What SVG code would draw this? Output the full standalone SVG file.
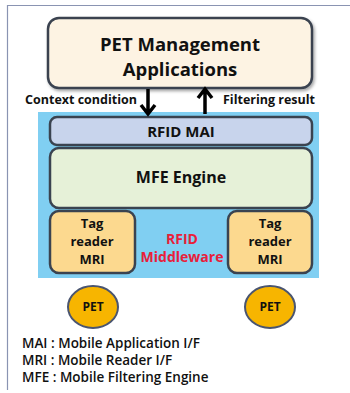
<svg xmlns="http://www.w3.org/2000/svg" width="350" height="393" viewBox="0 0 350 393">
<defs>
<style>
text{font-family:"Open Sans","Noto Sans","Liberation Sans",sans-serif;font-weight:bold;fill:#111;text-anchor:middle}
.box{stroke:#3a4350;stroke-width:2.5}
.arr{stroke:#000;stroke-width:3.5;fill:none}
.leg{text-anchor:start;font-weight:600;font-size:13.5px}
.lbl{font-size:12.5px}
.mri{font-size:13px}
</style>
<filter id="sh" x="-10%" y="-10%" width="130%" height="140%"><feDropShadow dx="1.5" dy="2" stdDeviation="1.5" flood-color="#000" flood-opacity="0.35"/></filter>
</defs>
<rect width="350" height="393" fill="#fff"/>
<path d="M7.5 390 V5.5 H350" fill="none" stroke="#8a94b2" stroke-width="1.2"/>
<g id="app">
<rect class="box" x="48" y="18" width="264" height="70" rx="11" fill="#fdf3e3" filter="url(#sh)"/>
<text x="180" y="51" font-size="18.5">PET Management</text>
<text x="180" y="76" font-size="18.5">Applications</text>
</g>
<g id="middleware">
<rect x="38" y="112" width="281" height="166" fill="#80cff2"/>
<text x="182" y="244" font-size="14" style="fill:#e8203a">RFID</text>
<text x="182" y="262" font-size="14" style="fill:#e8203a">Middleware</text>
</g>
<g id="mai">
<rect class="box" x="50" y="117" width="262" height="28" rx="7" fill="#c8d4ec"/>
<text x="181" y="137" font-size="15">RFID MAI</text>
</g>
<g id="mfe">
<rect class="box" x="50" y="148" width="262" height="60" rx="9" fill="#e6f1d8"/>
<text x="181" y="183" font-size="16">MFE Engine</text>
</g>
<g id="mri-left">
<rect class="box" x="50" y="211" width="85" height="62" rx="9" fill="#fcd98f"/>
<text class="mri" x="92" y="228">Tag</text>
<text class="mri" x="92" y="246">reader</text>
<text class="mri" x="92" y="264">MRI</text>
</g>
<g id="mri-right">
<rect class="box" x="228" y="211" width="84" height="62" rx="9" fill="#fcd98f"/>
<text class="mri" x="270" y="228">Tag</text>
<text class="mri" x="270" y="246">reader</text>
<text class="mri" x="270" y="264">MRI</text>
</g>
<g id="pet-left">
<ellipse cx="93" cy="307" rx="25" ry="21" fill="#f7b500" stroke="#4a5570" stroke-width="2"/>
<text x="93" y="311" font-size="12">PET</text>
</g>
<g id="pet-right">
<ellipse cx="270" cy="307" rx="25" ry="21" fill="#f7b500" stroke="#4a5570" stroke-width="2"/>
<text x="270" y="311" font-size="12">PET</text>
</g>
<g id="connectors">
<path class="arr" d="M148 89 V114 M141 105 L148 114 L155 105"/>
<path class="arr" d="M205 114 V89 M198 98 L205 89 L212 98"/>
<text class="lbl" x="81" y="104">Context condition</text>
<text class="lbl" x="269" y="104">Filtering result</text>
</g>
<g id="legend">
<text class="leg" x="22" y="348">MAI : Mobile Application I/F</text>
<text class="leg" x="22" y="365">MRI : Mobile Reader I/F</text>
<text class="leg" x="22" y="382">MFE : Mobile Filtering Engine</text>
</g>
</svg>
